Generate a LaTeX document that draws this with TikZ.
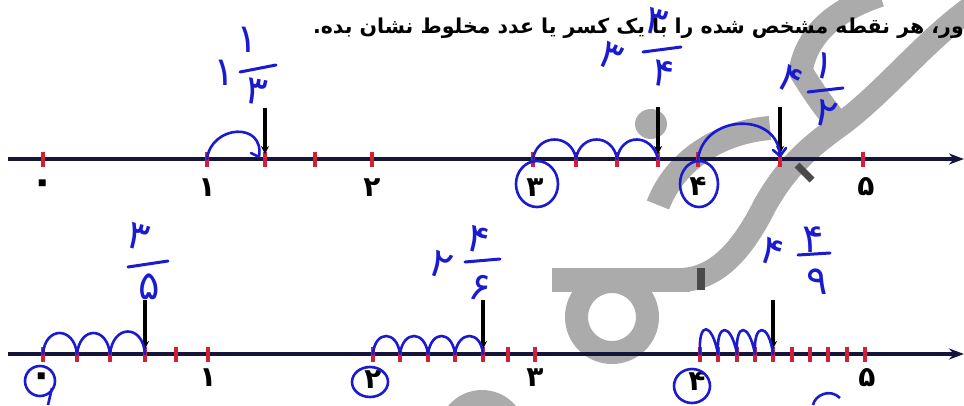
\documentclass[tikz,border=0pt]{standalone}
\usepackage{fontspec}
\newfontfamily\fa[Script=Arabic]{DejaVu Sans}
\TeXXeTstate=1
\usetikzlibrary{arrows.meta}
\definecolor{axiscol}{HTML}{15153A}
\definecolor{tickred}{HTML}{D0203A}
\definecolor{penblue}{HTML}{1A1AD0}
\definecolor{wmgray}{HTML}{ABABAB}
\definecolor{wmdark}{HTML}{4A4A4A}
\begin{document}
\begin{tikzpicture}[x=1pt,y=-1pt,
  axis/.style={line width=4.2pt, draw=axiscol, -{Stealth[length=15pt,width=11pt]}},
  tick/.style={draw=tickred, line width=3.2pt},
  ptr/.style={draw=black, line width=3.4pt, -{Stealth[length=8pt,width=8pt]}},
  hop/.style={draw=penblue, line width=2.6pt, line cap=round, line join=round},
  ring/.style={draw=penblue, line width=2.6pt},
  num/.style={font=\fa\bfseries\fontsize{28}{28}\selectfont, inner sep=0pt},
  zeronum/.style={font=\fa\bfseries\fontsize{40}{40}\selectfont, inner sep=0pt},
  hand/.style={text=penblue, font=\fa\fontsize{40}{40}\selectfont, inner sep=0pt},
  fbar/.style={draw=penblue, line width=3pt, line cap=round},
  wm/.style={draw=wmgray, line width=24pt},
  titletext/.style={font=\fa\bfseries\fontsize{20.5}{20.5}\selectfont, inner sep=0pt}
]
\fill[white] (0,0) rectangle (964,405);
\useasboundingbox (0,0) rectangle (964,405);

% ---- watermark ----
\draw[wm, line width=23pt] (612,317) circle[radius=35.5];
\fill[wmgray] (552,268) rectangle (690,292);
\draw[wm] (682,280) .. controls (720,278) and (745,245) .. (765,205)
  .. controls (785,170) and (805,150) .. (840,125)
  .. controls (885,92) and (925,40) .. (975,5);
\draw[wm] (658,205) .. controls (675,160) and (720,132) .. (770,128);
\draw[wm] (800,70) .. controls (815,95) and (830,115) .. (845,132);
\draw[wm] (800,75) .. controls (805,35) and (835,10) .. (880,-5);
\fill[wmgray] (651,124) ellipse[x radius=16, y radius=15];
\fill[wmgray] (482,434) circle[radius=44];
\fill[wmdark] (697,268) rectangle (705,290);
\draw[wmdark, line width=7pt] (797,165) -- (812,180);

% ---- title ----
\node[titletext, anchor=east] (title) at (964,28)
  {\beginR ور، هر نقطه مشخص شده را با یک کسر یا عدد مخلوط نشان بده.\endR};

% ---- top number line ----
\foreach \n/\x in {0/43,1/207,13/265,23/315,2/372,3/533,31/576,32/617,33/658,4/698,41/780,5/863}
  \coordinate (a\n) at (\x,159);
\coordinate (aL) at (8,159);
\coordinate (aR) at (964,159);
\draw[axis] (aL) -- (aR);
\foreach \n in {0,1,13,23,2,3,31,32,33,4,41,5}
  \draw[tick] ([yshift=7pt]a\n) -- ([yshift=-8pt]a\n);

\node[zeronum] (la0) at (43,187) {۰};
\node[num] (la1) at (207,188) {۱};
\node[num] (la2) at (372,188) {۲};
\node[num] (la3) at (535,188) {۳};
\node[num] (la4) at (698,186) {۴};
\node[num] (la5) at (866,187) {۵};
\draw[ring] (537,184) ellipse[x radius=21, y radius=23];
\draw[ring] (699,184) ellipse[x radius=19, y radius=23];

\coordinate (pa1) at (265,108);
\coordinate (pa2) at (658,107);
\coordinate (pa3) at (780,107);
\draw[ptr] (pa1) -- ([yshift=5pt]a13);
\draw[ptr] (pa2) -- ([yshift=5pt]a33);
\draw[ptr] (pa3) -- ([yshift=5pt]a41);

\draw[hop] (a1) .. controls +(4,-34) and +(6,-36) .. ([xshift=-6pt,yshift=2pt]a13) -- +(-8,-4);
\draw[hop] (a3) .. controls +(4,-26) and +(-4,-26) .. (a31)
  .. controls +(4,-26) and +(-4,-26) .. (a32)
  .. controls +(4,-26) and +(-6,-26) .. (a33);
\draw[hop] (a4) .. controls +(6,-45) and +(-2,-45) .. ([yshift=3pt]a41) -- +(-7,-6);
\draw[hop] ([yshift=3pt]a41) -- +(6,-8);

% handwritten top
\node[hand] (h1w) at (224,73) {۱};
\node[hand] (h1n) at (247,40) {۱};
\draw[fbar] (240,72) -- (276,65);
\node[hand, rotate=-10] (h1d) at (256,92) {۳};

\node[hand, rotate=-25] (h2w) at (611,57) {۳};
\node[hand, rotate=-15] (h2n) at (656,22) {۳};
\draw[fbar] (643,52) -- (681,47);
\node[hand, rotate=-10] (h2d) at (663,74) {۴};

\node[hand, rotate=-30] (h3w) at (790,80) {۴};
\node[hand, rotate=-15] (h3n) at (824,66) {۱};
\draw[fbar] (808,92) -- (843,88);
\node[hand, rotate=-15] (h3d) at (826,114) {۲};

% ---- bottom number line ----
\foreach \n/\x in {0/43,01/77,02/110,03/145,04/176,1/208,2/373,21/400,22/428,23/455,24/483,25/508,3/535,4/700,41/718,42/737,43/755,44/773,45/792,46/810,47/828,48/847,5/865}
  \coordinate (b\n) at (\x,354);
\coordinate (bL) at (8,354);
\coordinate (bR) at (964,354);
\draw[axis] (bL) -- (bR);
\foreach \n in {0,01,02,03,04,1,2,21,22,23,24,25,3,4,41,42,43,44,45,46,47,48,5}
  \draw[tick] ([yshift=7pt]b\n) -- ([yshift=-8pt]b\n);

\node[zeronum] (lb0) at (42,380) {۰};
\node[num] (lb1) at (208,378) {۱};
\node[num] (lb2) at (373,380) {۲};
\node[num] (lb3) at (535,378) {۳};
\node[num] (lb4) at (697,381) {۴};
\node[num] (lb5) at (867,378) {۵};
\draw[ring] (40,381) ellipse[x radius=15, y radius=15];
\draw[ring] (52,388) -- (48,405);
\draw[ring] (370,382) ellipse[x radius=18, y radius=15];
\draw[ring] (692,386) ellipse[x radius=18, y radius=17];
\draw[ring] (813,405) .. controls (815,395) and (830,388) .. (840,398);

\coordinate (pb1) at (145,300);
\coordinate (pb2) at (483,300);
\coordinate (pb3) at (773,300);
\draw[ptr] (pb1) -- ([yshift=5pt]b03);
\draw[ptr] (pb2) -- ([yshift=5pt]b24);
\draw[ptr] (pb3) -- ([yshift=5pt]b44);

\draw[hop] (b0) .. controls +(2,-28) and +(-3,-28) .. (b01)
  .. controls +(3,-28) and +(-3,-28) .. (b02)
  .. controls +(3,-30) and +(-2,-30) .. (b03);
\draw[hop] (b2) .. controls +(2,-24) and +(-3,-24) .. (b21)
  .. controls +(3,-24) and +(-3,-24) .. (b22)
  .. controls +(3,-24) and +(-3,-24) .. (b23)
  .. controls +(3,-24) and +(-2,-24) .. (b24);
\draw[hop] (b4) .. controls +(-2,-34) and +(-6,-32) .. (b41)
  .. controls +(-2,-32) and +(-6,-32) .. (b42)
  .. controls +(-2,-32) and +(-6,-32) .. (b43)
  .. controls +(-2,-32) and +(-4,-32) .. (b44);

% handwritten bottom
\node[hand, rotate=-15] (h4n) at (138,237) {۳};
\draw[fbar] (128,267) -- (168,261);
\node[hand] (h4d) at (149,287) {۵};

\node[hand, rotate=-20] (h5w) at (441,265) {۲};
\node[hand, rotate=-15] (h5n) at (478,240) {۴};
\draw[fbar] (465,262) -- (500,259);
\node[hand, rotate=-10] (h5d) at (480,288) {۶};

\node[hand, rotate=-20] (h6w) at (772,252) {۴};
\node[hand] (h6n) at (813,240) {۴};
\draw[fbar] (798,255) -- (830,253);
\node[hand] (h6d) at (817,282) {۹};
\end{tikzpicture}
\end{document}
